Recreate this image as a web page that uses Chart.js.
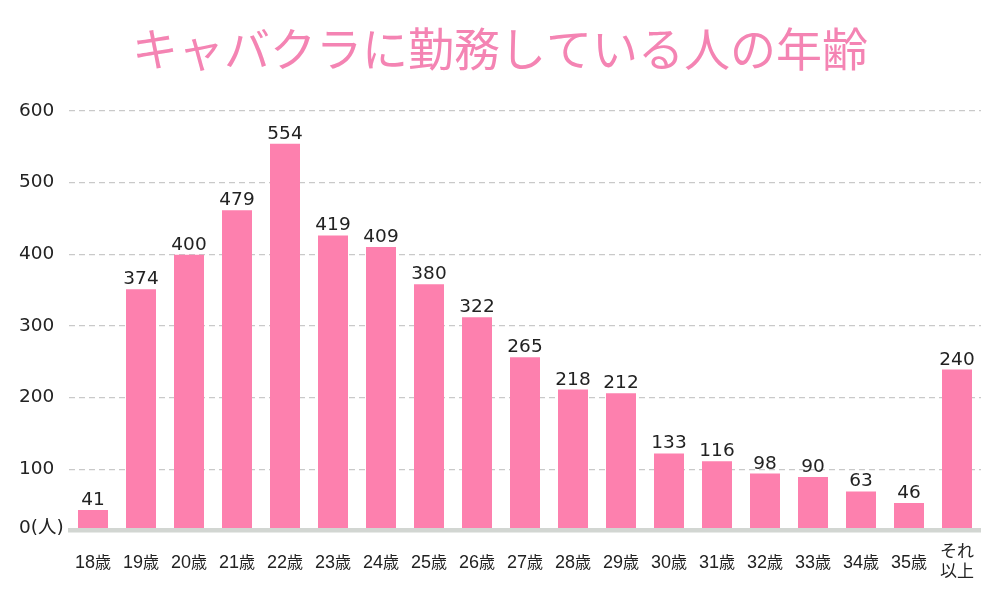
<!DOCTYPE html>
<html><head><meta charset="utf-8">
<script src="https://cdn.jsdelivr.net/npm/chart.js@4.4.1/dist/chart.umd.min.js"></script>
<style>html,body{margin:0;padding:0;background:#fff}#wrap{width:1000px;height:600px}</style>
</head><body><div id="wrap"><canvas id="c" width="1000" height="600"></canvas></div>
<script>
const categories = ['18歳','19歳','20歳','21歳','22歳','23歳','24歳','25歳','26歳','27歳','28歳','29歳','30歳','31歳','32歳','33歳','34歳','35歳','それ以上'];
// bar heights as drawn in the picture (read against the gridlines)
const barValues = [43,351,399,461,554,426,410,358,312,256,211,206,122,111,94,89,69,53,239];
// numbers printed above the bars
const valueLabels = ['41','374','400','479','554','419','409','380','322','265','218','212','133','116','98','90','63','46','240'];
const yTickValues = [100,200,300,400,500,600];
const zeroLabel = '0(人)';
const titleText = 'キャバクラに勤務している人の年齢';

const AXIS_FLOOR = 18;
const BAR_COLOR = '#fd80ae';
const TEXT_COLOR = '#222222';

const valueLabelPlugin = {
  id: 'valueLabels',
  afterDatasetsDraw(chart) {
    const ctx = chart.ctx;
    const meta = chart.getDatasetMeta(0);
    ctx.save();
    ctx.fillStyle = TEXT_COLOR;
    ctx.font = '18.5px "DejaVu Sans", "Noto Sans CJK JP", sans-serif';
    ctx.textAlign = 'center';
    ctx.textBaseline = 'alphabetic';
    meta.data.forEach((bar, i) => {
      ctx.fillText(valueLabels[i], bar.x, bar.y - 5);
    });
    ctx.restore();
  }
};

const baseBandPlugin = {
  id: 'baseBand',
  afterDatasetsDraw(chart) {
    const {ctx, chartArea} = chart;
    ctx.save();
    ctx.fillStyle = '#d2d6d2';
    ctx.fillRect(chartArea.left - 1, chartArea.bottom, chartArea.right - chartArea.left + 1, 4.5);
    ctx.restore();
  }
};

const xLabelPlugin = {
  id: 'xLabels',
  afterDraw(chart) {
    const ctx = chart.ctx;
    const xs = chart.scales.x;
    ctx.save();
    ctx.fillStyle = TEXT_COLOR;
    ctx.textBaseline = 'alphabetic';
    categories.forEach((lab, i) => {
      const x = xs.getPixelForValue(i);
      if (lab.endsWith('歳')) {
        const num = lab.slice(0, -1);
        const numFont = '18px "Liberation Sans", sans-serif';
        const unitFont = '16px "Noto Sans CJK JP", sans-serif';
        ctx.font = numFont;
        const w1 = ctx.measureText(num).width;
        ctx.font = unitFont;
        const w2 = ctx.measureText('歳').width;
        const start = x - (w1 + w2) / 2;
        ctx.textAlign = 'left';
        ctx.font = numFont;
        ctx.fillText(num, start, 567.5);
        ctx.font = unitFont;
        ctx.fillText('歳', start + w1, 567.5);
      } else {
        ctx.font = '17px "Noto Sans CJK JP", sans-serif';
        ctx.textAlign = 'center';
        ctx.textBaseline = 'middle';
        ctx.fillText(lab.slice(0, 2), x, 551);
        ctx.fillText(lab.slice(2), x, 571);
        ctx.textBaseline = 'alphabetic';
      }
    });
    ctx.restore();
  }
};

new Chart(document.getElementById('c'), {
  type: 'bar',
  data: {
    labels: categories,
    datasets: [{
      data: barValues,
      backgroundColor: BAR_COLOR,
      borderWidth: 0,
      barPercentage: 0.625,
      categoryPercentage: 1.0
    }]
  },
  options: {
    responsive: false,
    animation: false,
    devicePixelRatio: 1,
    layout: { padding: { left: 19, right: 19, bottom: 72, top: 0 } },
    plugins: {
      legend: { display: false },
      tooltip: { enabled: false },
      title: {
        display: true,
        text: titleText,
        color: '#f484b3',
        font: { family: '"Noto Sans CJK JP", sans-serif', size: 46, weight: 'normal', lineHeight: 1.2 },
        padding: { top: 21, bottom: 34.5 }
      }
    },
    scales: {
      x: {
        display: false,
        offset: true,
        grid: { display: false }
      },
      y: {
        min: AXIS_FLOOR,
        max: 600,
        afterBuildTicks(scale) {
          scale.ticks = [AXIS_FLOOR].concat(yTickValues).map(v => ({ value: v }));
        },
        afterFit(scale) { scale.width = 50; },
        border: { display: false, dash: [6, 4] },
        grid: {
          drawTicks: false,
          lineWidth: 1.2,
          color: (c) => (c.tick && c.tick.value === AXIS_FLOOR) ? 'rgba(0,0,0,0)' : '#c9c9c9'
        },
        ticks: {
          crossAlign: 'far',
          color: TEXT_COLOR,
          font: { family: '"DejaVu Sans", "Noto Sans CJK JP", sans-serif', size: 18.5 },
          padding: 6,
          callback: (v) => v === AXIS_FLOOR ? zeroLabel : String(v)
        }
      }
    }
  },
  plugins: [valueLabelPlugin, baseBandPlugin, xLabelPlugin]
});
</script>
</body></html>
